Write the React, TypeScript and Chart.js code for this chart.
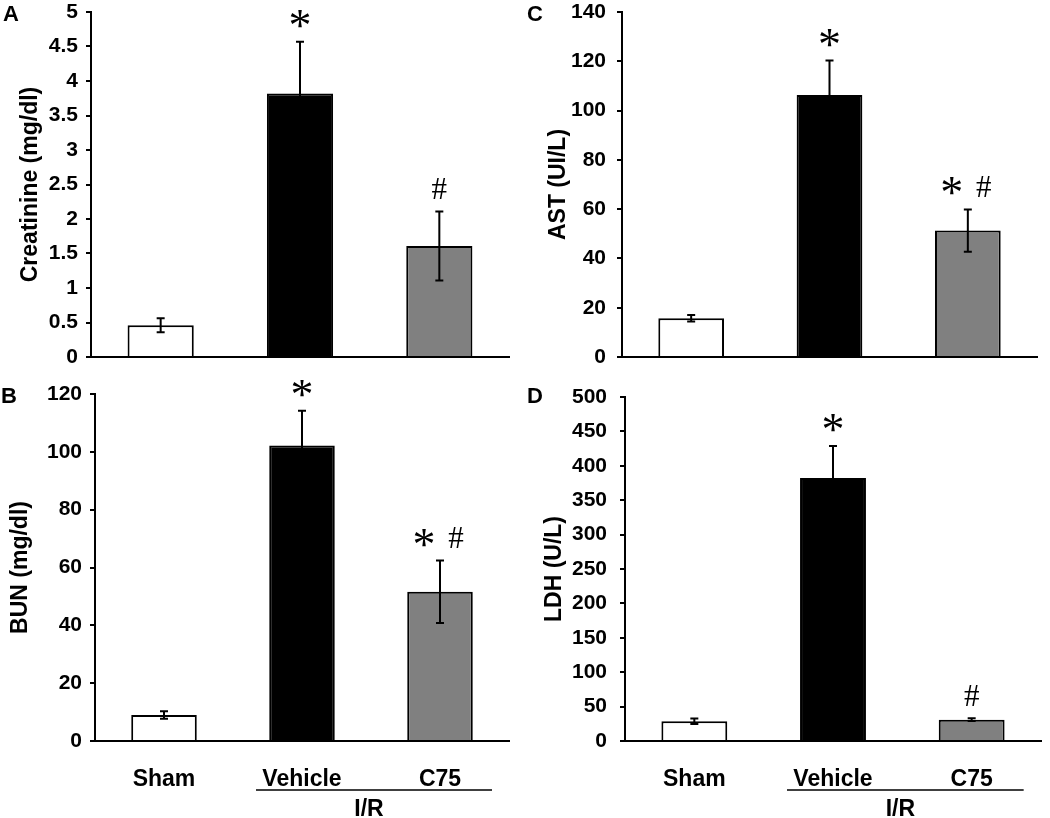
import React, { useEffect, useRef } from 'react';
import Chart from 'chart.js/auto';

// ---------- data ----------
const categories = ['Sham', 'Vehicle', 'C75'];

const creatinineMean = [0.46, 3.82, 1.61];
const creatinineErr = [0.1, 0.75, 0.5];
const creatinineMarks = ['', '*', '#'];

const astMean = [15.7, 106.3, 51.3];
const astErr = [1.3, 14, 8.6];
const astMarks = ['', '*', '*#'];

const bunMean = [9, 102.2, 51.6];
const bunErr = [1.3, 12, 10.8];
const bunMarks = ['', '*', '*#'];

const ldhMean = [28.6, 382.4, 31];
const ldhErr = [4, 46.5, 2];
const ldhMarks = ['', '*', '#'];

const barColors = ['#ffffff', '#000000', '#808080'];
const groupLabel = 'I/R';

const SANS = '"Liberation Sans", Arial, Helvetica, sans-serif';
const SERIF = '"Liberation Serif", "Times New Roman", serif';

type Spec = {
  letter: string;
  title: string;
  mean: number[];
  err: number[];
  marks: string[];
  max: number;
  step: number;
  showX: boolean;
  left: number;
  top: number;
  w: number;
  h: number;
  area: { l: number; t: number; r: number; b: number };
  titlePad: number;
  tickPad: number;
  letterPos: [number, number];
};

const specs: Spec[] = [
  {
    letter: 'A', title: 'Creatinine (mg/dl)', mean: creatinineMean, err: creatinineErr, marks: creatinineMarks,
    max: 5, step: 0.5, showX: false,
    left: 0, top: 0, w: 525, h: 380, area: { l: 91, t: 12, r: 509, b: 357 }, titlePad: 17, tickPad: 8, letterPos: [11, 13],
  },
  {
    letter: 'C', title: 'AST (UI/L)', mean: astMean, err: astErr, marks: astMarks,
    max: 140, step: 20, showX: false,
    left: 525, top: 0, w: 525, h: 380, area: { l: 97, t: 12, r: 512, b: 357 }, titlePad: 20, tickPad: 11, letterPos: [10, 13],
  },
  {
    letter: 'B', title: 'BUN (mg/dl)', mean: bunMean, err: bunErr, marks: bunMarks,
    max: 120, step: 20, showX: true,
    left: 0, top: 380, w: 525, h: 438, area: { l: 95, t: 14, r: 509, b: 361 }, titlePad: 7, tickPad: 8, letterPos: [9, 15],
  },
  {
    letter: 'D', title: 'LDH (U/L)', mean: ldhMean, err: ldhErr, marks: ldhMarks,
    max: 500, step: 50, showX: true,
    left: 525, top: 380, w: 525, h: 438, area: { l: 100, t: 17, r: 516, b: 361 }, titlePad: 16, tickPad: 13, letterPos: [10, 15],
  },
];

function drawCentered(ctx: CanvasRenderingContext2D, text: string, x: number, cy: number) {
  const m = ctx.measureText(text);
  ctx.textAlign = 'center';
  ctx.textBaseline = 'alphabetic';
  ctx.fillText(text, x, cy + (m.actualBoundingBoxAscent - m.actualBoundingBoxDescent) / 2);
}

function Panel({ spec }: { spec: Spec }) {
  const ref = useRef<HTMLCanvasElement | null>(null);
  useEffect(() => {
    if (!ref.current) return;
    const s = spec;
    const overlay = {
      id: 'overlay' + s.letter,
      afterDatasetsDraw(chart: any) {
        const ctx: CanvasRenderingContext2D = chart.ctx;
        const y = chart.scales.y;
        const meta = chart.getDatasetMeta(0);
        ctx.save();
        ctx.strokeStyle = '#000';
        ctx.lineWidth = 2;
        meta.data.forEach((bar: any, i: number) => {
          const x = bar.x;
          const top = y.getPixelForValue(s.mean[i] + s.err[i]);
          const bot = y.getPixelForValue(s.mean[i] - s.err[i]);
          ctx.beginPath();
          ctx.moveTo(x, top); ctx.lineTo(x, bot);
          ctx.moveTo(x - 4, top); ctx.lineTo(x + 4, top);
          ctx.moveTo(x - 4, bot); ctx.lineTo(x + 4, bot);
          ctx.stroke();
          const mk = s.marks[i];
          if (mk) {
            const cy = top - 23;
            const chars = mk.split('');
            chars.forEach((c, k) => {
              const dx = chars.length === 1 ? 0 : (k === 0 ? -16 : 16);
              ctx.fillStyle = '#000';
              ctx.font = c === '*' ? `46px ${SERIF}` : `31px ${SERIF}`;
              drawCentered(ctx, c, x + dx, cy);
            });
          }
        });
        ctx.restore();
      },
      afterDraw(chart: any) {
        const ctx: CanvasRenderingContext2D = chart.ctx;
        ctx.save();
        ctx.fillStyle = '#000';
        ctx.font = `bold 22px ${SANS}`;
        drawCentered(ctx, s.letter, s.letterPos[0], s.letterPos[1]);
        if (s.showX) {
          const meta = chart.getDatasetMeta(0);
          const x1 = meta.data[1].x - 46;
          const x2 = meta.data[2].x + 52;
          const ly = chart.chartArea.bottom + 49;
          ctx.strokeStyle = '#000';
          ctx.lineWidth = 1.5;
          ctx.beginPath();
          ctx.moveTo(x1, ly); ctx.lineTo(x2, ly);
          ctx.stroke();
          ctx.font = `bold 23px ${SANS}`;
          drawCentered(ctx, groupLabel, (x1 + x2) / 2 - 5, ly + 17);
        }
        ctx.restore();
      },
    };

    const chart = new Chart(ref.current, {
      type: 'bar',
      data: {
        labels: categories,
        datasets: [
          {
            data: s.mean,
            backgroundColor: barColors,
            borderColor: '#000',
            borderWidth: 2,
            barPercentage: 0.475,
            categoryPercentage: 1,
          },
        ],
      },
      options: {
        animation: false,
        responsive: false,
        maintainAspectRatio: false,
        events: [],
        layout: { padding: { left: 0, top: s.area.t, right: s.w - s.area.r, bottom: 0 } },
        plugins: { legend: { display: false }, tooltip: { enabled: false }, title: { display: false } },
        scales: {
          x: {
            offset: true,
            grid: { display: false },
            border: { display: true, color: '#000', width: 2 },
            ticks: {
              display: s.showX,
              color: '#000',
              font: { family: SANS, size: 23, weight: 'bold' },
              padding: 17,
              maxRotation: 0,
              autoSkip: false,
            },
            afterFit: (scale: any) => {
              scale.height = s.h - s.area.b;
              scale.paddingLeft = 0;
              scale.paddingRight = 0;
            },
          },
          y: {
            min: 0,
            max: s.max,
            grid: { display: true, drawOnChartArea: false, drawTicks: true, tickLength: 5, color: '#000', lineWidth: 2 },
            border: { display: true, color: '#000', width: 2 },
            ticks: {
              stepSize: s.step,
              color: '#000',
              padding: s.tickPad,
              font: { family: SANS, size: 21, weight: 'bold' },
              callback: (v: any) => String(Math.round(Number(v) * 100) / 100),
            },
            title: {
              display: true,
              text: s.title,
              color: '#000',
              font: { family: SANS, size: 23, weight: 'bold' },
              padding: { top: s.titlePad, bottom: 0 },
            },
            afterFit: (scale: any) => {
              scale.width = s.area.l;
              scale.paddingTop = 0;
              scale.paddingBottom = 0;
            },
          },
        },
      } as any,
      plugins: [overlay],
    });
    return () => chart.destroy();
  }, [spec]);

  return (
    <canvas
      ref={ref}
      width={spec.w}
      height={spec.h}
      style={{ position: 'absolute', left: spec.left, top: spec.top, width: spec.w, height: spec.h }}
    />
  );
}

export default function App() {
  return (
    <div style={{ position: 'absolute', left: 0, top: 0, width: 1050, height: 818, background: '#fff', overflow: 'hidden' }}>
      {specs.map((s) => (
        <Panel key={s.letter} spec={s} />
      ))}
    </div>
  );
}
